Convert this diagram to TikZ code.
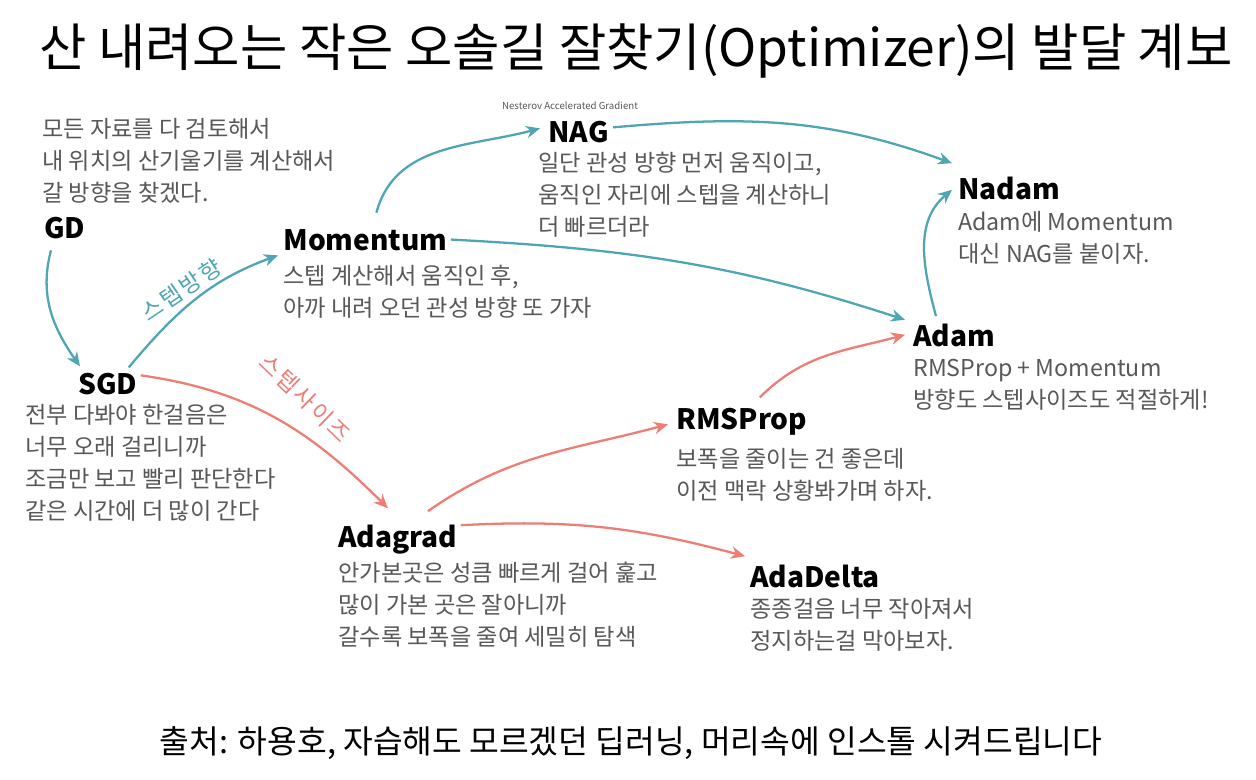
\documentclass[tikz,border=0pt]{standalone}
\usepackage{fontspec}
\setmainfont{Noto Sans CJK KR}
\usetikzlibrary{arrows.meta}
\definecolor{dirteal}{RGB}{79,166,178}
\definecolor{sizesalmon}{RGB}{238,125,118}
\definecolor{descgray}{RGB}{88,88,88}

\begin{document}
\begin{tikzpicture}[x=0.02cm, y=0.02cm,
  algo/.style={anchor=base west, inner sep=0pt, text depth=0pt,
    font=\fontsize{16}{18}\selectfont\bfseries},
  desc/.style={anchor=north west, inner sep=0pt, align=left, text=descgray,
    font=\fontsize{13.2}{18.2}\selectfont},
  dirarrow/.style={dirteal, line width=1.3pt, -{Stealth[length=8pt, width=7pt]}},
  sizearrow/.style={sizesalmon, line width=1.3pt, -{Stealth[length=8pt, width=7pt]}},
  tag/.style={inner sep=0pt, font=\fontsize{13}{13}\selectfont\addfontfeatures{LetterSpace=10}}]
  \fill[white] (0,0) rectangle (1256,-779);
  \useasboundingbox (0,0) rectangle (1256,-779);

  \node[font=\fontsize{29.3}{32}\selectfont] (title) at (636,-51)
    {산 내려오는 작은 오솔길 잘찾기(Optimizer)의 발달 계보};

  \node[algo] (gd) at (44,-238) {GD};
  \node[desc] (gdtext) at (42,-118)
    {모든 자료를 다 검토해서\\내 위치의 산기울기를 계산해서\\갈 방향을 찾겠다.};
  \node[algo] (sgd) at (78,-394) {SGD};
  \node[desc] (sgdtext) at (25,-404)
    {전부 다봐야 한걸음은\\너무 오래 걸리니까\\조금만 보고 빨리 판단한다\\같은 시간에 더 많이 간다};
  \node[algo] (momentum) at (283,-250) {Momentum};
  \node[desc] (momentumtext) at (283,-265)
    {스텝 계산해서 움직인 후,\\아까 내려 오던 관성 방향 또 가자};
  \node[inner sep=0pt, text=descgray, font=\fontsize{5.5}{6}\selectfont] (nagfull) at (570,-106)
    {Nesterov Accelerated Gradient};
  \node[algo] (nag) at (548,-142) {NAG};
  \node[desc] (nagtext) at (538,-152)
    {일단 관성 방향 먼저 움직이고,\\움직인 자리에 스텝을 계산하니\\더 빠르더라};
  \node[algo] (nadam) at (958,-199) {Nadam};
  \node[desc] (nadamtext) at (958,-211)
    {Adam에 Momentum\\대신 NAG를 붙이자.};
  \node[algo] (adam) at (913,-346) {Adam};
  \node[desc] (adamtext) at (913,-359)
    {RMSProp + Momentum\\방향도 스텝사이즈도 적절하게!};
  \node[algo] (rmsprop) at (676,-429) {RMSProp};
  \node[desc] (rmsproptext) at (676,-448)
    {보폭을 줄이는 건 좋은데\\이전 맥락 상황봐가며 하자.};
  \node[algo] (adagrad) at (338,-547) {Adagrad};
  \node[desc] (adagradtext) at (338,-562)
    {안가본곳은 성큼 빠르게 걸어 훑고\\많이 가본 곳은 잘아니까\\갈수록 보폭을 줄여 세밀히 탐색};
  \node[algo] (adadelta) at (750,-587) {AdaDelta};
  \node[desc] (adadeltatext) at (750,-598)
    {종종걸음 너무 작아져서\\정지하는걸 막아보자.};

  \draw[dirarrow] ([shift={(7,-12)}]gd.south west) to[out=-105, in=125] ([shift={(2,6)}]sgd.north west);
  \draw[dirarrow] ([shift={(-9,5)}]sgd.north east) to[out=50, in=-160] ([shift={(-5,-5)}]momentum.south west);
  \draw[dirarrow] ([shift={(11,16)}]momentum.north) to[out=75, in=-165] ([shift={(-8,3)}]nag.west);
  \draw[dirarrow] ([shift={(4,4)}]nag.east) to[out=5, in=160] ([shift={(-6,13)}]nadam.north west);
  \draw[dirarrow] ([shift={(3,0)}]momentum.east) to[out=-3, in=162] ([shift={(-8,15)}]adam.west);
  \draw[dirarrow] ([shift={(23,7)}]adam.north west) to[out=105, in=-140] ([shift={(-6,-2)}]nadam.west);
  \draw[sizearrow] ([shift={(3,8)}]sgd.east) to[out=-8, in=135] ([shift={(-10,16)}]adagrad.north);
  \draw[sizearrow] ([shift={(30,13)}]adagrad.north) to[out=35, in=-165] ([shift={(-8,-6)}]rmsprop.west);
  \draw[sizearrow] ([shift={(3,-1)}]adagrad.north east) to[out=3, in=165] ([shift={(-5,8)}]adadelta.north west);
  \draw[sizearrow] ([shift={(18,10)}]rmsprop.north) to[out=45, in=-165] ([shift={(-8,0)}]adam.west);

  \node[tag, text=dirteal, rotate=34] (dirtag) at (181,-290) {스텝방향};
  \node[tag, text=sizesalmon, rotate=-44] (sizetag) at (305,-398) {스텝사이즈};

  \node[font=\fontsize{18.4}{20}\selectfont] (source) at (631,-743)
    {출처: 하용호, 자습해도 모르겠던 딥러닝, 머리속에 인스톨 시켜드립니다};
\end{tikzpicture}
\end{document}
